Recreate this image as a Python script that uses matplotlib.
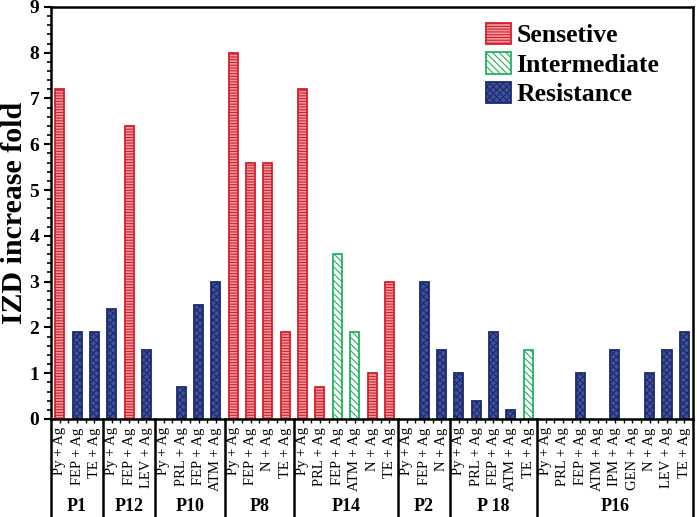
import matplotlib.pyplot as plt
import matplotlib.patches as mpatches
import matplotlib.transforms as mtransforms
from matplotlib.ticker import MultipleLocator

plt.rcParams['font.family'] = ['Liberation Serif', 'DejaVu Serif']
plt.rcParams['hatch.linewidth'] = 0.8

# groups and their treatments
groups = ['P1', 'P12', 'P10', 'P8', 'P14', 'P2', 'P 18', 'P16']
treatments = [
    ['Py + Ag', 'FEP + Ag', 'TE + Ag'],
    ['Py + Ag', 'FEP + Ag', 'LEV + Ag'],
    ['Py + Ag', 'PRL + Ag', 'FEP + Ag', 'ATM + Ag'],
    ['Py + Ag', 'FEP + Ag', 'N + Ag', 'TE + Ag'],
    ['Py + Ag', 'PRL + Ag', 'FEP + Ag', 'ATM + Ag', 'N + Ag', 'TE + Ag'],
    ['Py + Ag', 'FEP + Ag', 'N + Ag'],
    ['Py + Ag', 'PRL + Ag', 'FEP + Ag', 'ATM + Ag', 'TE + Ag'],
    ['Py + Ag', 'PRL + Ag', 'FEP + Ag', 'ATM + Ag', 'IPM + Ag', 'GEN + Ag',
     'N + Ag', 'LEV + Ag', 'TE + Ag'],
]
values = [
    [7.2, 1.9, 1.9],
    [2.4, 6.4, 1.5],
    [0, 0.7, 2.5, 3.0],
    [8.0, 5.6, 5.6, 1.9],
    [7.2, 0.7, 3.6, 1.9, 1.0, 3.0],
    [0, 3.0, 1.5],
    [1.0, 0.4, 1.9, 0.2, 1.5],
    [0, 0, 1.0, 0, 1.5, 0, 1.0, 1.5, 1.9],
]
# S = Sensetive, I = Intermediate, R = Resistance
status = [
    ['S', 'R', 'R'],
    ['R', 'S', 'R'],
    ['R', 'R', 'R', 'R'],
    ['S', 'S', 'S', 'S'],
    ['S', 'S', 'I', 'I', 'S', 'S'],
    ['R', 'R', 'R'],
    ['R', 'R', 'R', 'R', 'I'],
    ['R', 'R', 'R', 'R', 'R', 'R', 'R', 'R', 'R'],
]

styles = {
    'S': dict(facecolor='#f09aa0', edgecolor='#d61f2c', hatch='------'),
    'I': dict(facecolor='white', edgecolor='#22b35e', hatch='\\\\\\\\\\'),
    'R': dict(facecolor='#41529a', edgecolor='#1c2a6e', hatch='xxxxx'),
}
names = {'S': 'Sensetive', 'I': 'Intermediate', 'R': 'Resistance'}

labels = [t for g in treatments for t in g]
vals = [v for g in values for v in g]
stats = [s for g in status for s in g]
xs = list(range(len(labels)))

fig = plt.figure(figsize=(6.97, 5.17), dpi=100)
ax = fig.add_axes([0.0732, 0.1896, 0.9211, 0.797])

for x, v, s in zip(xs, vals, stats):
    if v > 0:
        ax.bar(x, v, width=0.52, linewidth=1.3, **styles[s])

ax.set_xlim(-0.5, len(labels) - 0.5)
ax.set_ylim(0, 9)
ax.yaxis.set_major_locator(MultipleLocator(1))
ax.yaxis.set_minor_locator(MultipleLocator(0.2))
ax.tick_params(axis='y', which='major', direction='out', length=5, width=1.5,
               labelsize=14)
ax.tick_params(axis='y', which='minor', direction='out', length=3, width=1.2)
for lab in ax.get_yticklabels():
    lab.set_fontweight('bold')
ax.set_ylabel('IZD increase fold', fontsize=21.5, fontweight='bold')
ax.yaxis.set_label_coords(-0.036, 0.5)

ax.set_xticks(xs)
ax.set_xticklabels(labels, rotation=90, fontsize=10.5)
ax.tick_params(axis='x', direction='out', length=3, width=1, pad=3)
ax.set_xticks([x + 0.5 for x in xs[:-1]], minor=True)
ax.tick_params(axis='x', which='minor', direction='out', length=3, width=1)

for sp in ax.spines.values():
    sp.set_linewidth(1.8)

# group separators and group names below the axis
trans = mtransforms.blended_transform_factory(ax.transData, ax.transAxes)
start = 0
bounds = [-0.5]
for g, tr in zip(groups, treatments):
    end = start + len(tr)
    bounds.append(end - 0.5)
    ax.text((start + end - 1) / 2, -0.213, g, transform=trans, ha='center',
            va='center', fontsize=13, fontweight='bold')
    start = end
for b in bounds:
    ax.plot([b, b], [0, -0.24], transform=trans, color='black', lw=1.8,
            clip_on=False)

handles = [mpatches.Patch(linewidth=1.3, label=names[k], **styles[k])
           for k in ['S', 'I', 'R']]
ax.legend(handles=handles, loc='upper left', frameon=False,
          prop={'size': 18.5, 'weight': 'bold'}, handlelength=1.0,
          handleheight=0.9, handletextpad=0.2, labelspacing=0.2,
          borderpad=0, borderaxespad=0, bbox_to_anchor=(0.677, 0.962))

fig.savefig('out.png', dpi=100)
